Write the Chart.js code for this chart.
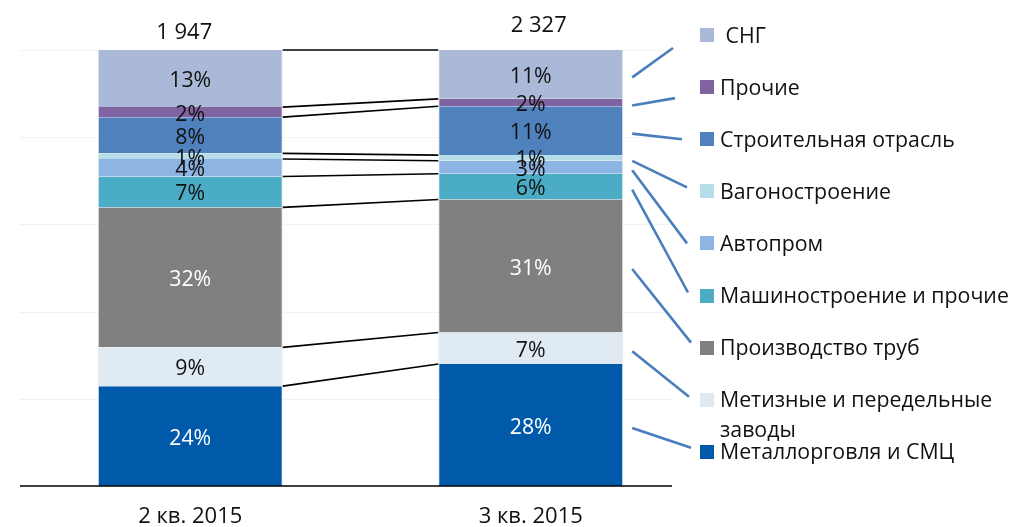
<!DOCTYPE html>
<html><head><meta charset="utf-8">
<script src="https://cdn.jsdelivr.net/npm/chart.js@4.4.1/dist/chart.umd.min.js"></script>
<style>html,body{margin:0;padding:0;background:#fff;overflow:hidden}#wrap{width:1011px;height:527px;position:relative}</style>
</head><body><div id="wrap"><canvas id="c" width="1011" height="527"></canvas></div>
<script>
// ---- data (legend order: top to bottom) ----
const periods = ['2 кв. 2015', '3 кв. 2015'];
const totals = [1947, 2327];
const segments = [' СНГ', 'Прочие', 'Строительная отрасль', 'Вагоностроение', 'Автопром', 'Машиностроение и прочие', 'Производство труб', 'Метизные и передельные заводы', 'Металлорговля и СМЦ'];
const shareQ2 = [13.1, 2.3, 8.3, 1.3, 4.0, 7.1, 32.1, 8.9, 22.9];
const shareQ3 = [11.2, 1.7, 11.2, 1.3, 3.0, 5.9, 30.5, 7.2, 28.0];
const labelQ2 = ['13%', '2%', '8%', '1%', '4%', '7%', '32%', '9%', '24%'];
const labelQ3 = ['11%', '2%', '11%', '1%', '3%', '6%', '31%', '7%', '28%'];
const yTicks = [0, 20, 40, 60, 80, 100];

// ---- styles ----
const colors = ['#aab9d7', '#8064a2', '#4f81bd', '#b7dde8', '#8eb4e3', '#4bacc6', '#808080', '#dfeaf2', '#005aa9'];
const textColors = ['#111', '#111', '#111', '#111', '#111', '#111', '#fff', '#111', '#fff'];
const FONT = '"Open Sans", "Noto Sans", sans-serif';
const leaderEnd = [[-27, 13], [-25, 11], [-18, 0], [-13, -4], [-13, 0], [-12, -3], [-9, -5], [-11, -3], [-9, -4]];

const n = segments.length;
const datasets = [];
for (let k = n - 1; k >= 0; k--) {
  datasets.push({
    label: segments[k],
    data: [shareQ2[k], shareQ3[k]],
    backgroundColor: colors[k],
    borderColor: '#e3e7ec',
    borderWidth: {left: 1, right: 1, top: 0, bottom: 0},
    borderSkipped: false,
    categoryPercentage: 0.543,
    barPercentage: 1,
    segIndex: k
  });
}
const labelsBy = [labelQ2, labelQ3];

function fmt(v) { return String(v).replace(/\B(?=(\d{3})+(?!\d))/g, ' '); }

const deco = {
  id: 'deco',
  beforeDatasetsDraw(chart) {
    const {ctx, chartArea: a, scales: {y}} = chart;
    ctx.save();
    ctx.strokeStyle = '#eef3f3';
    ctx.lineWidth = 1;
    yTicks.forEach(t => {
      if (t === 0) return;
      const py = Math.round(y.getPixelForValue(t)) + 0.5;
      ctx.beginPath(); ctx.moveTo(a.left, py); ctx.lineTo(a.right - 29, py); ctx.stroke();
    });
    ctx.restore();
  },
  afterDatasetsDraw(chart) {
    const {ctx, chartArea: a, scales: {y}} = chart;
    ctx.save();
    // axis
    ctx.strokeStyle = '#000'; ctx.lineWidth = 1.3;
    const y0 = y.getPixelForValue(0);
    ctx.beginPath(); ctx.moveTo(a.left, y0); ctx.lineTo(a.right - 29, y0); ctx.stroke();

    // connectors between bars
    ctx.lineWidth = 1.6;
    chart.data.datasets.forEach((ds, di) => {
      const m = chart.getDatasetMeta(di);
      const e0 = m.data[0], e1 = m.data[1];
      ctx.beginPath();
      ctx.moveTo(e0.x + e0.width / 2, e0.y);
      ctx.lineTo(e1.x - e1.width / 2, e1.y);
      ctx.stroke();
    });

    // segment labels
    ctx.font = '21.3px ' + FONT;
    ctx.textAlign = 'center';
    ctx.textBaseline = 'alphabetic';
    chart.data.datasets.forEach((ds, di) => {
      const m = chart.getDatasetMeta(di);
      const k = ds.segIndex;
      m.data.forEach((e, i) => {
        const cy = (e.y + e.base) / 2;
        ctx.fillStyle = textColors[k];
        ctx.fillText(labelsBy[i][k], e.x, cy + 21 * 0.36 + 1);
      });
    });

    // totals & categories
    const topMeta = chart.getDatasetMeta(chart.data.datasets.length - 1);
    const totalDx = [-6, 8], totalDy = [-11, -18];
    ctx.fillStyle = '#111';
    ctx.font = '22px ' + FONT;
    topMeta.data.forEach((e, i) => {
      ctx.fillText(fmt(totals[i]), e.x + totalDx[i], e.y + totalDy[i]);
      ctx.fillText(periods[i], e.x, y0 + 37);
    });

    // legend
    const lx = 700, lTop = 35, lStep = 52.1, fs = 21.3;
    ctx.font = fs + 'px ' + FONT;
    ctx.textAlign = 'left';
    const e1s = chart.data.datasets.map((ds, di) => chart.getDatasetMeta(di).data[1]);
    for (let k = 0; k < n; k++) {
      const iy = lTop + lStep * k;
      ctx.fillStyle = colors[k];
      ctx.fillRect(lx, Math.round(iy - 7), 14, 14);
      ctx.fillStyle = '#111';
      // wrap (keeps leading spaces)
      const words = segments[k].split(' ');
      const lines = []; let cur = null;
      words.forEach(w => {
        const t = cur === null ? w : cur + ' ' + w;
        if (ctx.measureText(t).width > 292 && cur !== null && cur.trim() !== '') { lines.push(cur); cur = w; } else cur = t;
      });
      lines.push(cur);
      lines.forEach((ln, li) => ctx.fillText(ln, lx + 20, iy + fs * 0.36 + li * 30));
      // leader
      const di = n - 1 - k;
      const e = e1s[di];
      const sy = (e.y + e.base) / 2 + 3;
      const sx = e.x + e.width / 2 + 9;
      ctx.strokeStyle = '#4a7ebb'; ctx.lineWidth = 2.6;
      ctx.beginPath(); ctx.moveTo(sx, sy); ctx.lineTo(lx + leaderEnd[k][0], iy + leaderEnd[k][1]); ctx.stroke();
    }
    ctx.restore();
  }
};

new Chart(document.getElementById('c'), {
  type: 'bar',
  data: {labels: periods, datasets},
  options: {
    responsive: false, animation: false, devicePixelRatio: 1,
    layout: {padding: {left: 20, right: 310, top: 50, bottom: 41}},
    scales: {
      x: {stacked: true, display: false},
      y: {stacked: true, display: false, min: 0, max: 100}
    },
    plugins: {legend: {display: false}, tooltip: {enabled: false}}
  },
  plugins: [deco]
});
</script></body></html>
